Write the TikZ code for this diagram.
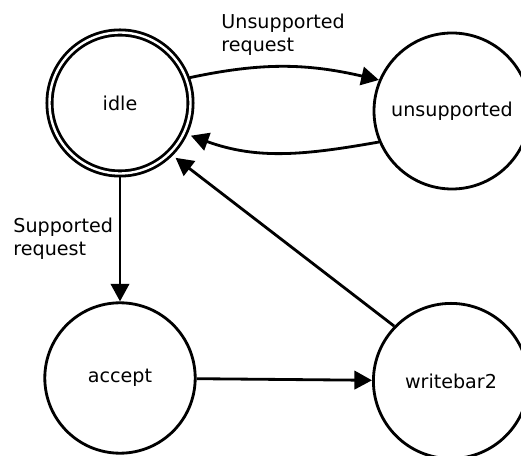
\documentclass[tikz,border=0pt]{standalone}
\usepackage{fontspec}
\setmainfont{DejaVu Sans}
\usetikzlibrary{arrows.meta}

\begin{document}
\begin{tikzpicture}[
    >={Triangle[length=0.44cm, width=0.46cm]},
    line width=2pt,
    font=\fontsize{13.6}{16.3}\selectfont,
    stnode/.style={circle, draw, inner sep=0pt},
    idlenode/.style={circle, draw, double, double distance=1.7pt, inner sep=0pt, minimum size=3.525cm, outer sep=0.09cm},
    lbl/.style={anchor=north west, align=left, inner sep=0pt}
]
\useasboundingbox (0,0) rectangle (13.025,11.375);

% Column positions
\def\colL{3.0}
\def\colR{11.3}

% === Top row: idle and unsupported ===
\node[idlenode] (idle) at (\colL, 8.8) {idle};
\node[stnode, minimum size=3.9cm] (unsup) at (\colR, 8.6) {unsupported};

% === Bottom row: accept and writebar2 ===
\node[stnode, minimum size=3.76cm] (accept) at (\colL, 1.925) {accept};
\node[stnode, minimum size=3.88cm] (wbar) at (\colR-0.025, 1.85) {writebar2};

% === Transitions ===
\draw[->] (idle.20) to[out=12, in=167] (unsup.157);
\draw[->, shorten >=0.1cm] (unsup.203) to[out=190, in=340] (idle.-25);
\draw[->] (idle.south) -- (accept.north);
\draw[->] (accept) -- (wbar);
\draw[->, shorten >=0.1cm] (wbar.136) -- (idle.-45);

% Edge labels
\node[lbl] (lblU) at (5.5, 11.05) {Unsupported\\request};
\node[lbl] (lblS) at (0.3, 5.96) {Supported\\request};
\end{tikzpicture}
\end{document}
